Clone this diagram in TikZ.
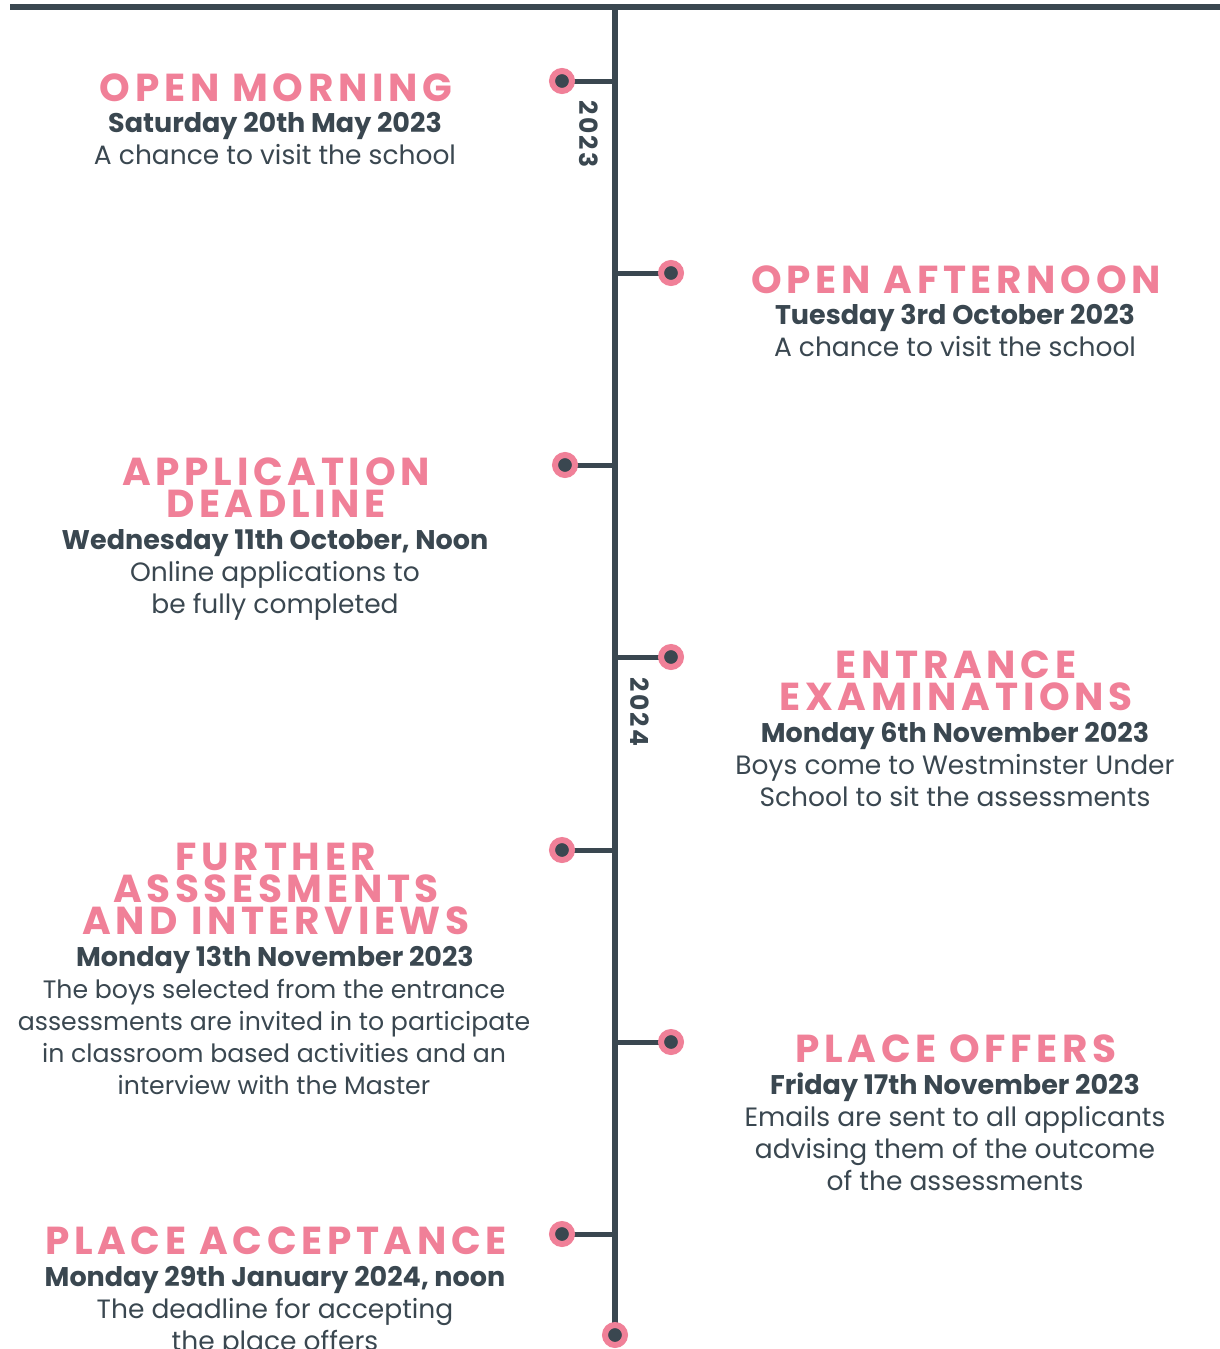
\documentclass[tikz,border=0pt]{standalone}
\usepackage{fontspec}
\setmainfont{Poppins}
\newfontfamily\titlef[LetterSpace=12]{Poppins}
\newfontfamily\yearf[LetterSpace=10]{Poppins}
\definecolor{ink}{HTML}{3A4750}
\definecolor{rose}{HTML}{F08098}
\tikzset{
  spineline/.style={line width=6pt, draw=ink},
  branchline/.style={line width=5pt, draw=ink},
  dotnode/.style={circle, fill=ink, draw=rose, line width=6pt, minimum size=20pt, inner sep=0pt},
  titletext/.style={anchor=base, align=center, text=rose, inner sep=0pt, font=\titlef\bfseries\fontsize{39}{32}\selectfont},
  datetext/.style={anchor=base, align=center, text=ink, inner sep=0pt, font=\bfseries\fontsize{27}{32}\selectfont},
  bodytext/.style={anchor=base, align=center, text=ink, inner sep=0pt, font=\fontsize{26.5}{32}\selectfont},
  yeartext/.style={rotate=-90, text=ink, inner sep=0pt, font=\yearf\bfseries\fontsize{25}{25}\selectfont}
}
\begin{document}
\begin{tikzpicture}[x=1pt,y=-1pt]
\useasboundingbox (0,0) rectangle (1220,1349);
% frame lines
\coordinate (topL) at (10,7);
\coordinate (topR) at (1220,7);
\coordinate (spineTop) at (615,4);
\coordinate (spineBot) at (615,1335);
\draw[spineline] (topL) -- (topR);
\draw[spineline] (spineTop) -- (spineBot);
% event points
\coordinate (p1) at (562,81);
\coordinate (p2) at (671,273);
\coordinate (p3) at (565,465);
\coordinate (p4) at (671,657);
\coordinate (p5) at (562,850);
\coordinate (p6) at (671,1042);
\coordinate (p7) at (562,1234);
\foreach \p in {p1,p2,p3,p4,p5,p6,p7}
  \draw[branchline] (\p) -- (\p -| spineTop);
\node[dotnode] (d1) at (p1) {};
\node[dotnode] (d2) at (p2) {};
\node[dotnode] (d3) at (p3) {};
\node[dotnode] (d4) at (p4) {};
\node[dotnode] (d5) at (p5) {};
\node[dotnode] (d6) at (p6) {};
\node[dotnode] (d7) at (p7) {};
\node[dotnode] (dEnd) at (spineBot) {};
% years
\node[yeartext] (y2023) at (589,134) {2023};
\node[yeartext] (y2024) at (640,712) {2024};
% (multi-line nodes are placed at the baseline of their last line)
% event 1
\node[titletext] (t1) at (276,101) {OPEN MORNING};
\node[datetext] (a1) at (275,132) {Saturday 20th May 2023};
\node[bodytext] (b1) at (275,164) {A chance to visit the school};
% event 2
\node[titletext] (t2) at (956,293) {OPEN AFTERNOON};
\node[datetext] (a2) at (955,324) {Tuesday 3rd October 2023};
\node[bodytext] (b2) at (955,356) {A chance to visit the school};
% event 3
\node[titletext] (t3) at (276,517) {APPLICATION\\DEADLINE};
\node[datetext] (a3) at (275,549) {Wednesday 11th October, Noon};
\node[bodytext] (b3) at (275,613) {Online applications to\\be fully completed};
% event 4
\node[titletext] (t4) at (956,710) {ENTRANCE\\EXAMINATIONS};
\node[datetext] (a4) at (955,742) {Monday 6th November 2023};
\node[bodytext] (b4) at (955,806) {Boys come to Westminster Under\\School to sit the assessments};
% event 5
\node[titletext] (t5) at (276,934) {FURTHER\\ASSSESMENTS\\AND INTERVIEWS};
\node[datetext] (a5) at (275,966) {Monday 13th November 2023};
\node[bodytext, font=\fontsize{25.2}{32}\selectfont] (b5) at (274,1094) {The boys selected from the entrance\\assessments are invited in to participate\\in classroom based activities and an\\interview with the Master};
% event 6
\node[titletext] (t6) at (956,1062) {PLACE OFFERS};
\node[datetext] (a6) at (955,1094) {Friday 17th November 2023};
\node[bodytext] (b6) at (955,1190) {Emails are sent to all applicants\\advising them of the outcome\\of the assessments};
% event 7
\node[titletext] (t7) at (276,1254) {PLACE ACCEPTANCE};
\node[datetext] (a7) at (275,1286) {Monday 29th January 2024, noon};
\node[bodytext] (b7) at (275,1350) {The deadline for accepting\\the place offers};
\end{tikzpicture}
\end{document}
